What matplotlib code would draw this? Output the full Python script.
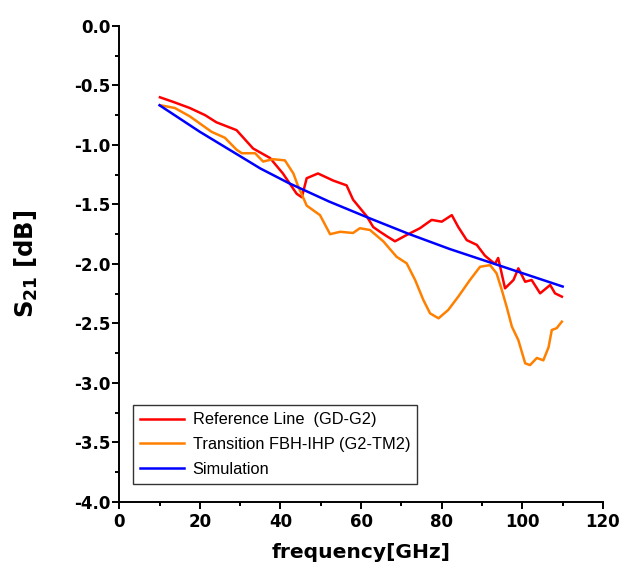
import numpy as np
import matplotlib.pyplot as plt
from matplotlib import font_manager
from matplotlib.ticker import MultipleLocator

plt.rcParams['font.family'] = 'DejaVu Sans'
plt.rcParams['mathtext.fontset'] = 'custom'
plt.rcParams['mathtext.bf'] = 'DejaVu Sans:bold'
plt.rcParams['mathtext.rm'] = 'DejaVu Sans:bold'

# Reference Line (GD-G2)
ref_f = [10.1, 13.5, 17.5, 21.3, 24.1, 29.1, 33.2, 37.4, 40.6, 44.0, 45.3, 46.5,
         49.3, 53.1, 56.4, 58.0, 61.4, 63.0, 64.7, 66.5, 68.4, 71.3, 74.6, 77.5,
         80.0, 82.5, 84.1, 86.2, 88.7, 90.7, 92.0, 93.2, 94.0, 95.7, 97.8, 99.0,
         100.7, 102.3, 104.4, 106.9, 108.1, 109.8]
ref_s = [-0.60, -0.64, -0.69, -0.75, -0.81, -0.876, -1.03, -1.11, -1.24, -1.41, -1.44, -1.28,
         -1.24, -1.30, -1.34, -1.46, -1.60, -1.69, -1.73, -1.77, -1.81, -1.757, -1.70, -1.63,
         -1.645, -1.59, -1.69, -1.80, -1.84, -1.93, -1.967, -2.00, -1.95, -2.205, -2.135, -2.037,
         -2.15, -2.135, -2.247, -2.177, -2.247, -2.275]

# Transition FBH-IHP (G2-TM2)
tr_f = [10.1, 13.8, 17.5, 20.0, 22.9, 26.2, 29.1, 30.4, 33.7, 35.7, 38.1, 41.1,
        43.2, 44.4, 45.6, 46.5, 49.8, 52.3, 54.8, 58.0, 59.7, 62.2, 65.5, 68.8,
        71.3, 73.4, 75.4, 77.1, 79.2, 81.6, 84.1, 87.0, 89.5, 92.0, 93.6, 94.9,
        96.1, 97.4, 99.0, 100.7, 101.9, 103.6, 105.2, 106.5, 107.3, 108.5, 109.8]
tr_s = [-0.666, -0.69, -0.76, -0.82, -0.89, -0.94, -1.04, -1.07, -1.07, -1.14, -1.12, -1.13,
        -1.24, -1.35, -1.44, -1.51, -1.59, -1.75, -1.73, -1.74, -1.70, -1.715, -1.81, -1.94,
        -1.995, -2.135, -2.30, -2.415, -2.457, -2.387, -2.275, -2.135, -2.024, -2.01, -2.079, -2.219,
        -2.36, -2.527, -2.64, -2.835, -2.85, -2.79, -2.81, -2.70, -2.555, -2.54, -2.485]

# Simulation
sim_f = [10, 20, 30, 35, 42, 52, 62, 72, 82, 94, 102, 110]
sim_s = [-0.667, -0.89, -1.095, -1.198, -1.32, -1.475, -1.615, -1.75, -1.875, -2.01, -2.10, -2.19]

fig = plt.figure(figsize=(6.21, 5.75), dpi=100)
ax = fig.add_axes([0.192, 0.127, 0.779, 0.828])

ax.plot(ref_f, ref_s, color='#ff0000', lw=1.8, label='Reference Line  (GD-G2)')
ax.plot(tr_f, tr_s, color='#ff8000', lw=1.8, label='Transition FBH-IHP (G2-TM2)')
ax.plot(sim_f, sim_s, color='#0000ff', lw=1.8, label='Simulation')

ax.set_xlim(0, 120)
ax.set_ylim(-4.0, 0.0)
ax.xaxis.set_major_locator(MultipleLocator(20))
ax.xaxis.set_minor_locator(MultipleLocator(10))
ax.yaxis.set_major_locator(MultipleLocator(0.5))
ax.yaxis.set_minor_locator(MultipleLocator(0.25))
ax.yaxis.set_major_formatter(lambda v, p: f'{v:.1f}')

for s in ['top', 'right']:
    ax.spines[s].set_visible(False)
for s in ['left', 'bottom']:
    ax.spines[s].set_linewidth(1.4)

ax.tick_params(which='major', direction='out', length=5, width=1.4, labelsize=12)
ax.tick_params(which='minor', direction='out', length=3, width=1.4)
ax.tick_params(axis='y', which='major', pad=1.5)
ax.tick_params(axis='x', which='major', pad=3)
for lbl in ax.get_xticklabels() + ax.get_yticklabels():
    lbl.set_fontweight('bold')

ax.set_xlabel('frequency[GHz]', fontsize=14.6, fontweight='bold')
ax.set_ylabel(r'S$_{21}$ [dB]', fontsize=17.5, fontweight='bold')
ax.xaxis.set_label_coords(0.5, -0.086)
ax.yaxis.set_label_coords(-0.163, 0.5)

names = {f.name for f in font_manager.fontManager.ttflist}
if 'Liberation Sans Narrow' in names:
    leg_font = {'family': 'Liberation Sans Narrow', 'size': 14}
else:
    leg_font = {'family': 'Liberation Sans', 'size': 11.8}

leg = ax.legend(loc='lower left', bbox_to_anchor=(0.028, 0.038), prop=leg_font,
                frameon=True, fancybox=False, edgecolor='black', handlelength=2.7,
                labelspacing=0.58, borderpad=0.45, handletextpad=0.5, borderaxespad=0)
leg.get_frame().set_linewidth(1.0)

plt.savefig('out.png', dpi=100)
